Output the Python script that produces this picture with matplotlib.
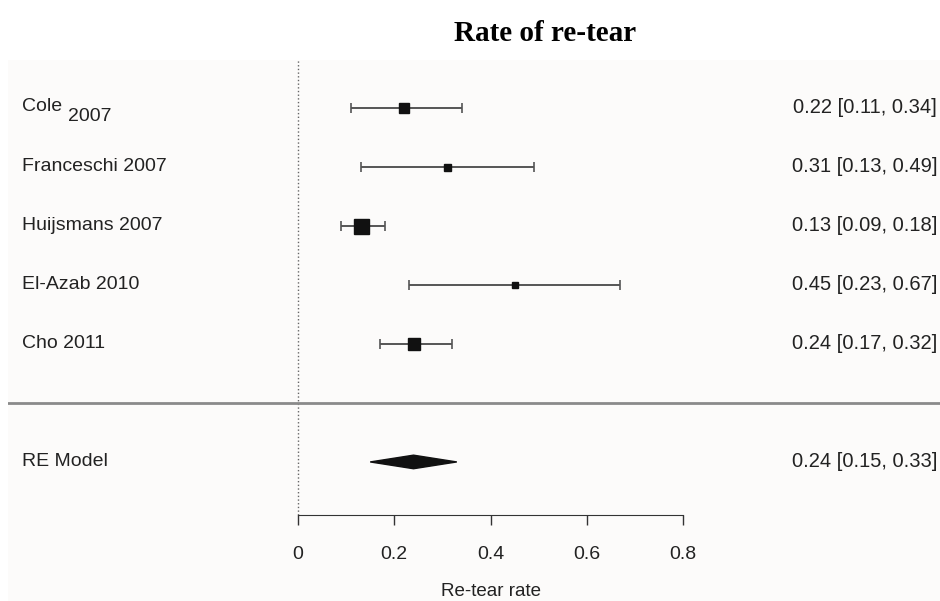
import numpy as np
import matplotlib.pyplot as plt
from matplotlib.patches import Polygon

# Dữ liệu forest plot
studies = ['Cole', 'Franceschi 2007', 'Huijsmans 2007', 'El-Azab 2010', 'Cho 2011']
rate = [0.22, 0.31, 0.13, 0.45, 0.24]
lower = [0.11, 0.13, 0.09, 0.23, 0.17]
upper = [0.34, 0.49, 0.18, 0.67, 0.32]
weight_px = [10, 7, 15, 6, 12]  # kích thước ô vuông (theo trọng số)

re_est, re_lo, re_hi = 0.24, 0.15, 0.33
ticks = [0, 0.2, 0.4, 0.6, 0.8]
tick_labels = ['0', '0.2', '0.4', '0.6', '0.8']

plt.rcParams['font.family'] = ['Liberation Sans', 'DejaVu Sans']
fs_left, fs_right = 14, 14.5
txt_color = '#222222'

fig = plt.figure(figsize=(9.4, 6.01), dpi=100)
fig.text(0.58, 0.944, 'Rate of re-tear', ha='center', va='center',
         fontsize=21, fontweight='bold', family='Liberation Serif')

ax = fig.add_axes([8/940, 0, 932/940, 541/601])
ax.set_facecolor('#fcfbfa')
ax.set_xlim(-0.6026, 1.334)
ax.set_ylim(-3.356, 5.81)

k = len(studies)
ypos = np.arange(k, 0, -1)
axis_y = -1.9

# Đường tham chiếu x=0
ax.plot([0, 0], [axis_y, 5.81], ls=':', color='#666666', lw=1)
# Đường phân cách
ax.axhline(0, color='#8a8a8a', lw=2)

for i in range(k):
    ax.errorbar(rate[i], ypos[i], xerr=[[rate[i] - lower[i]], [upper[i] - rate[i]]],
                fmt='none', ecolor='#555555', elinewidth=1.4, capsize=3.5, capthick=1.2)
    ax.plot(rate[i], ypos[i], marker='s', color='#111111', ms=weight_px[i] * 0.72, ls='none')
    name = studies[i]
    if name == 'Cole':
        ax.text(-0.573, ypos[i] + 0.03, 'Cole', ha='left', va='center', fontsize=fs_left, color=txt_color)
        ax.text(-0.478, ypos[i] - 0.14, '2007', ha='left', va='center', fontsize=fs_left, color=txt_color)
    else:
        ax.text(-0.573, ypos[i], name, ha='left', va='center', fontsize=fs_left, color=txt_color)
    ax.text(1.328, ypos[i], f'{rate[i]:.2f} [{lower[i]:.2f}, {upper[i]:.2f}]',
            ha='right', va='center', fontsize=fs_right, color=txt_color)

# Mô hình RE (hình thoi)
dh = 0.115
ax.add_patch(Polygon([[re_lo, -1], [re_est, -1 + dh], [re_hi, -1], [re_est, -1 - dh]],
                     closed=True, color='#111111'))
ax.text(-0.573, -1, 'RE Model', ha='left', va='center', fontsize=fs_left, color=txt_color)
ax.text(1.328, -1, f'{re_est:.2f} [{re_lo:.2f}, {re_hi:.2f}]',
        ha='right', va='center', fontsize=fs_right, color=txt_color)

# Trục x
for s in ['top', 'right', 'left']:
    ax.spines[s].set_visible(False)
ax.spines['bottom'].set_position(('data', axis_y))
ax.spines['bottom'].set_bounds(0, 0.8)
ax.spines['bottom'].set_color('#333333')
ax.set_yticks([])
ax.set_xticks(ticks)
ax.set_xticklabels(tick_labels)
ax.tick_params(axis='x', length=7.5, width=1, color='#333333', labelsize=14,
               labelcolor=txt_color, pad=15)
ax.text(0.4, -3.2, 'Re-tear rate', ha='center', va='center', fontsize=13.5, color=txt_color)

fig.savefig('out.png', dpi=100)
